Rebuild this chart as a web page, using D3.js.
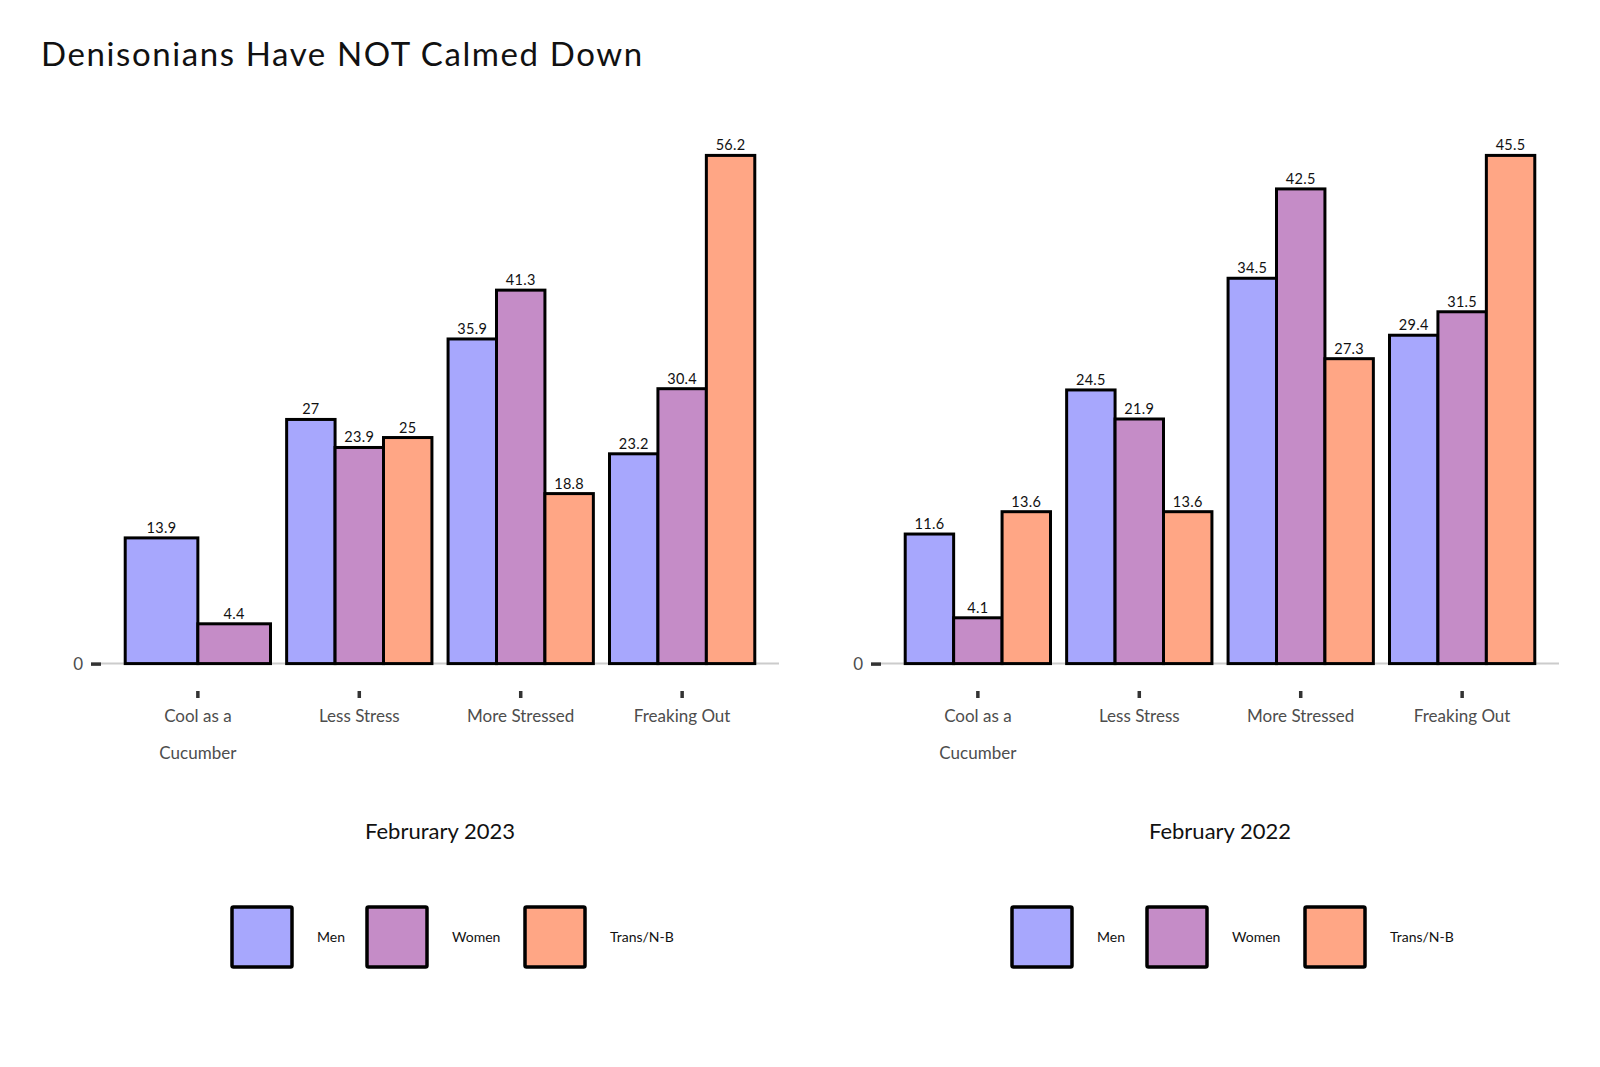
<!doctype html>
<html lang="en">
<head>
    <meta charset="utf-8"/>
    <title>Denisonians Have NOT Calmed Down</title>
    <script src="https://d3js.org/d3.v7.min.js"></script>
    <style>
        body {
            margin: 0;
            padding: 0;
            background: white;
        }

        svg text {
            font-family: 'Lato', 'Open Sans', sans-serif;
        }
    </style>
</head>
<body>
<script>

    // categorias y series
    const categories = ["Cool as a Cucumber", "Less Stress", "More Stressed", "Freaking Out"]
    const groups = ["Men", "Women", "Trans/N-B"]
    const colors = ["#a7a7fd", "#c58cc7", "#ffa685"]

    const men2023 = [13.9, 27, 35.9, 23.2]
    const women2023 = [4.4, 23.9, 41.3, 30.4]
    const trans2023 = [null, 25, 18.8, 56.2]

    const men2022 = [11.6, 24.5, 34.5, 29.4]
    const women2022 = [4.1, 21.9, 42.5, 31.5]
    const trans2022 = [13.6, 13.6, 27.3, 45.5]

    const panels = [
        {title: "Februrary 2023", series: [men2023, women2023, trans2023], left: 101},
        {title: "February 2022", series: [men2022, women2022, trans2022], left: 881}
    ]

    const width = 1600, height = 1067
    const panelWidth = 678
    const panelTop = 130, panelBottom = 689

    const svg = d3.select("body")
        .append("svg")
        .attr("width", width)
        .attr("height", height)

    // titulo
    svg.append("text")
        .attr("x", 41)
        .attr("y", 66)
        .attr("font-size", 33)
        .attr("letter-spacing", 1.6)
        .attr("fill", "#111")
        .text("Denisonians Have NOT Calmed Down")

    panels.forEach(function (p) {
        const g = svg.append("g")

        const x = d3.scaleBand()
            .domain(categories)
            .range([p.left, p.left + panelWidth])
            .paddingInner(0.1)
            .paddingOuter(0.15)

        const maxVal = d3.max(p.series, s => d3.max(s))
        const y = d3.scaleLinear()
            .domain([-0.05 * maxVal, 1.05 * maxVal])
            .range([panelBottom, panelTop])

        // linea del cero
        g.append("line")
            .attr("x1", p.left)
            .attr("x2", p.left + panelWidth)
            .attr("y1", y(0))
            .attr("y2", y(0))
            .attr("stroke", "#cccccc")
            .attr("stroke-width", 2)

        // armamos las barras (dodge, las que faltan no ocupan espacio)
        const bars = []
        categories.forEach(function (c, ci) {
            const present = groups.map((gr, gi) => ({group: gi, value: p.series[gi][ci]}))
                .filter(d => d.value !== null)
            const w = x.bandwidth() / present.length
            present.forEach(function (d, k) {
                bars.push({cat: c, group: d.group, value: d.value, x0: x(c) + k * w, w: w})
            })
        })

        g.selectAll("rect.bar")
            .data(bars)
            .enter()
            .append("rect")
            .attr("class", "bar")
            .attr("x", d => d.x0)
            .attr("width", d => d.w)
            .attr("y", d => y(d.value))
            .attr("height", d => y(0) - y(d.value))
            .attr("fill", d => colors[d.group])
            .attr("stroke", "black")
            .attr("stroke-width", 3)

        g.selectAll("text.val")
            .data(bars)
            .enter()
            .append("text")
            .attr("class", "val")
            .attr("x", d => d.x0 + d.w / 2)
            .attr("y", d => y(d.value) - 5)
            .attr("text-anchor", "middle")
            .attr("font-size", 14.5)
            .attr("letter-spacing", 0.3)
            .attr("fill", "#111")
            .text(d => d.value)

        // eje x
        const xAxis = g.append("g")
            .attr("transform", "translate(0," + (panelBottom + 2) + ")")
            .call(d3.axisBottom(x).tickSize(7).tickPadding(7).tickFormat(""))
        xAxis.select(".domain").remove()
        xAxis.selectAll(".tick line")
            .attr("stroke", "#333")
            .attr("stroke-width", 3.5)

        xAxis.selectAll(".tick").each(function (c) {
            const words = c === "Cool as a Cucumber" ? ["Cool as a", "Cucumber"] : [c]
            const t = d3.select(this).append("text")
                .attr("fill", "#4d4d4d")
                .attr("font-size", 17)
                .attr("text-anchor", "middle")
            words.forEach(function (w, i) {
                t.append("tspan")
                    .attr("x", 0)
                    .attr("y", 31 + i * 37)
                    .text(w)
            })
        })

        // eje y, solo el cero
        const yAxis = g.append("g")
            .attr("transform", "translate(" + p.left + ",0)")
            .call(d3.axisLeft(y).tickValues([0]).tickSize(10).tickPadding(8))
        yAxis.select(".domain").remove()
        yAxis.selectAll(".tick line")
            .attr("stroke", "#333")
            .attr("stroke-width", 3.5)
        yAxis.selectAll(".tick text")
            .attr("fill", "#4d4d4d")
            .attr("font-size", 17)

        // subtitulo
        const cx = p.left + panelWidth / 2
        g.append("text")
            .attr("x", cx)
            .attr("y", 839)
            .attr("text-anchor", "middle")
            .attr("font-size", 22)
            .attr("fill", "#111")
            .text(p.title)

        // leyenda
        const keyOffsets = [-208, -73, 85]
        const labelOffsets = [-123, 12, 170]
        groups.forEach(function (gr, i) {
            g.append("rect")
                .attr("x", cx + keyOffsets[i])
                .attr("y", 907)
                .attr("width", 60)
                .attr("height", 60)
                .attr("rx", 1.5)
                .attr("fill", colors[i])
                .attr("stroke", "black")
                .attr("stroke-width", 3.5)
            g.append("text")
                .attr("x", cx + labelOffsets[i])
                .attr("y", 942)
                .attr("font-size", 14)
                .attr("fill", "#111")
                .text(gr)
        })
    })

</script>
</body>
</html>
